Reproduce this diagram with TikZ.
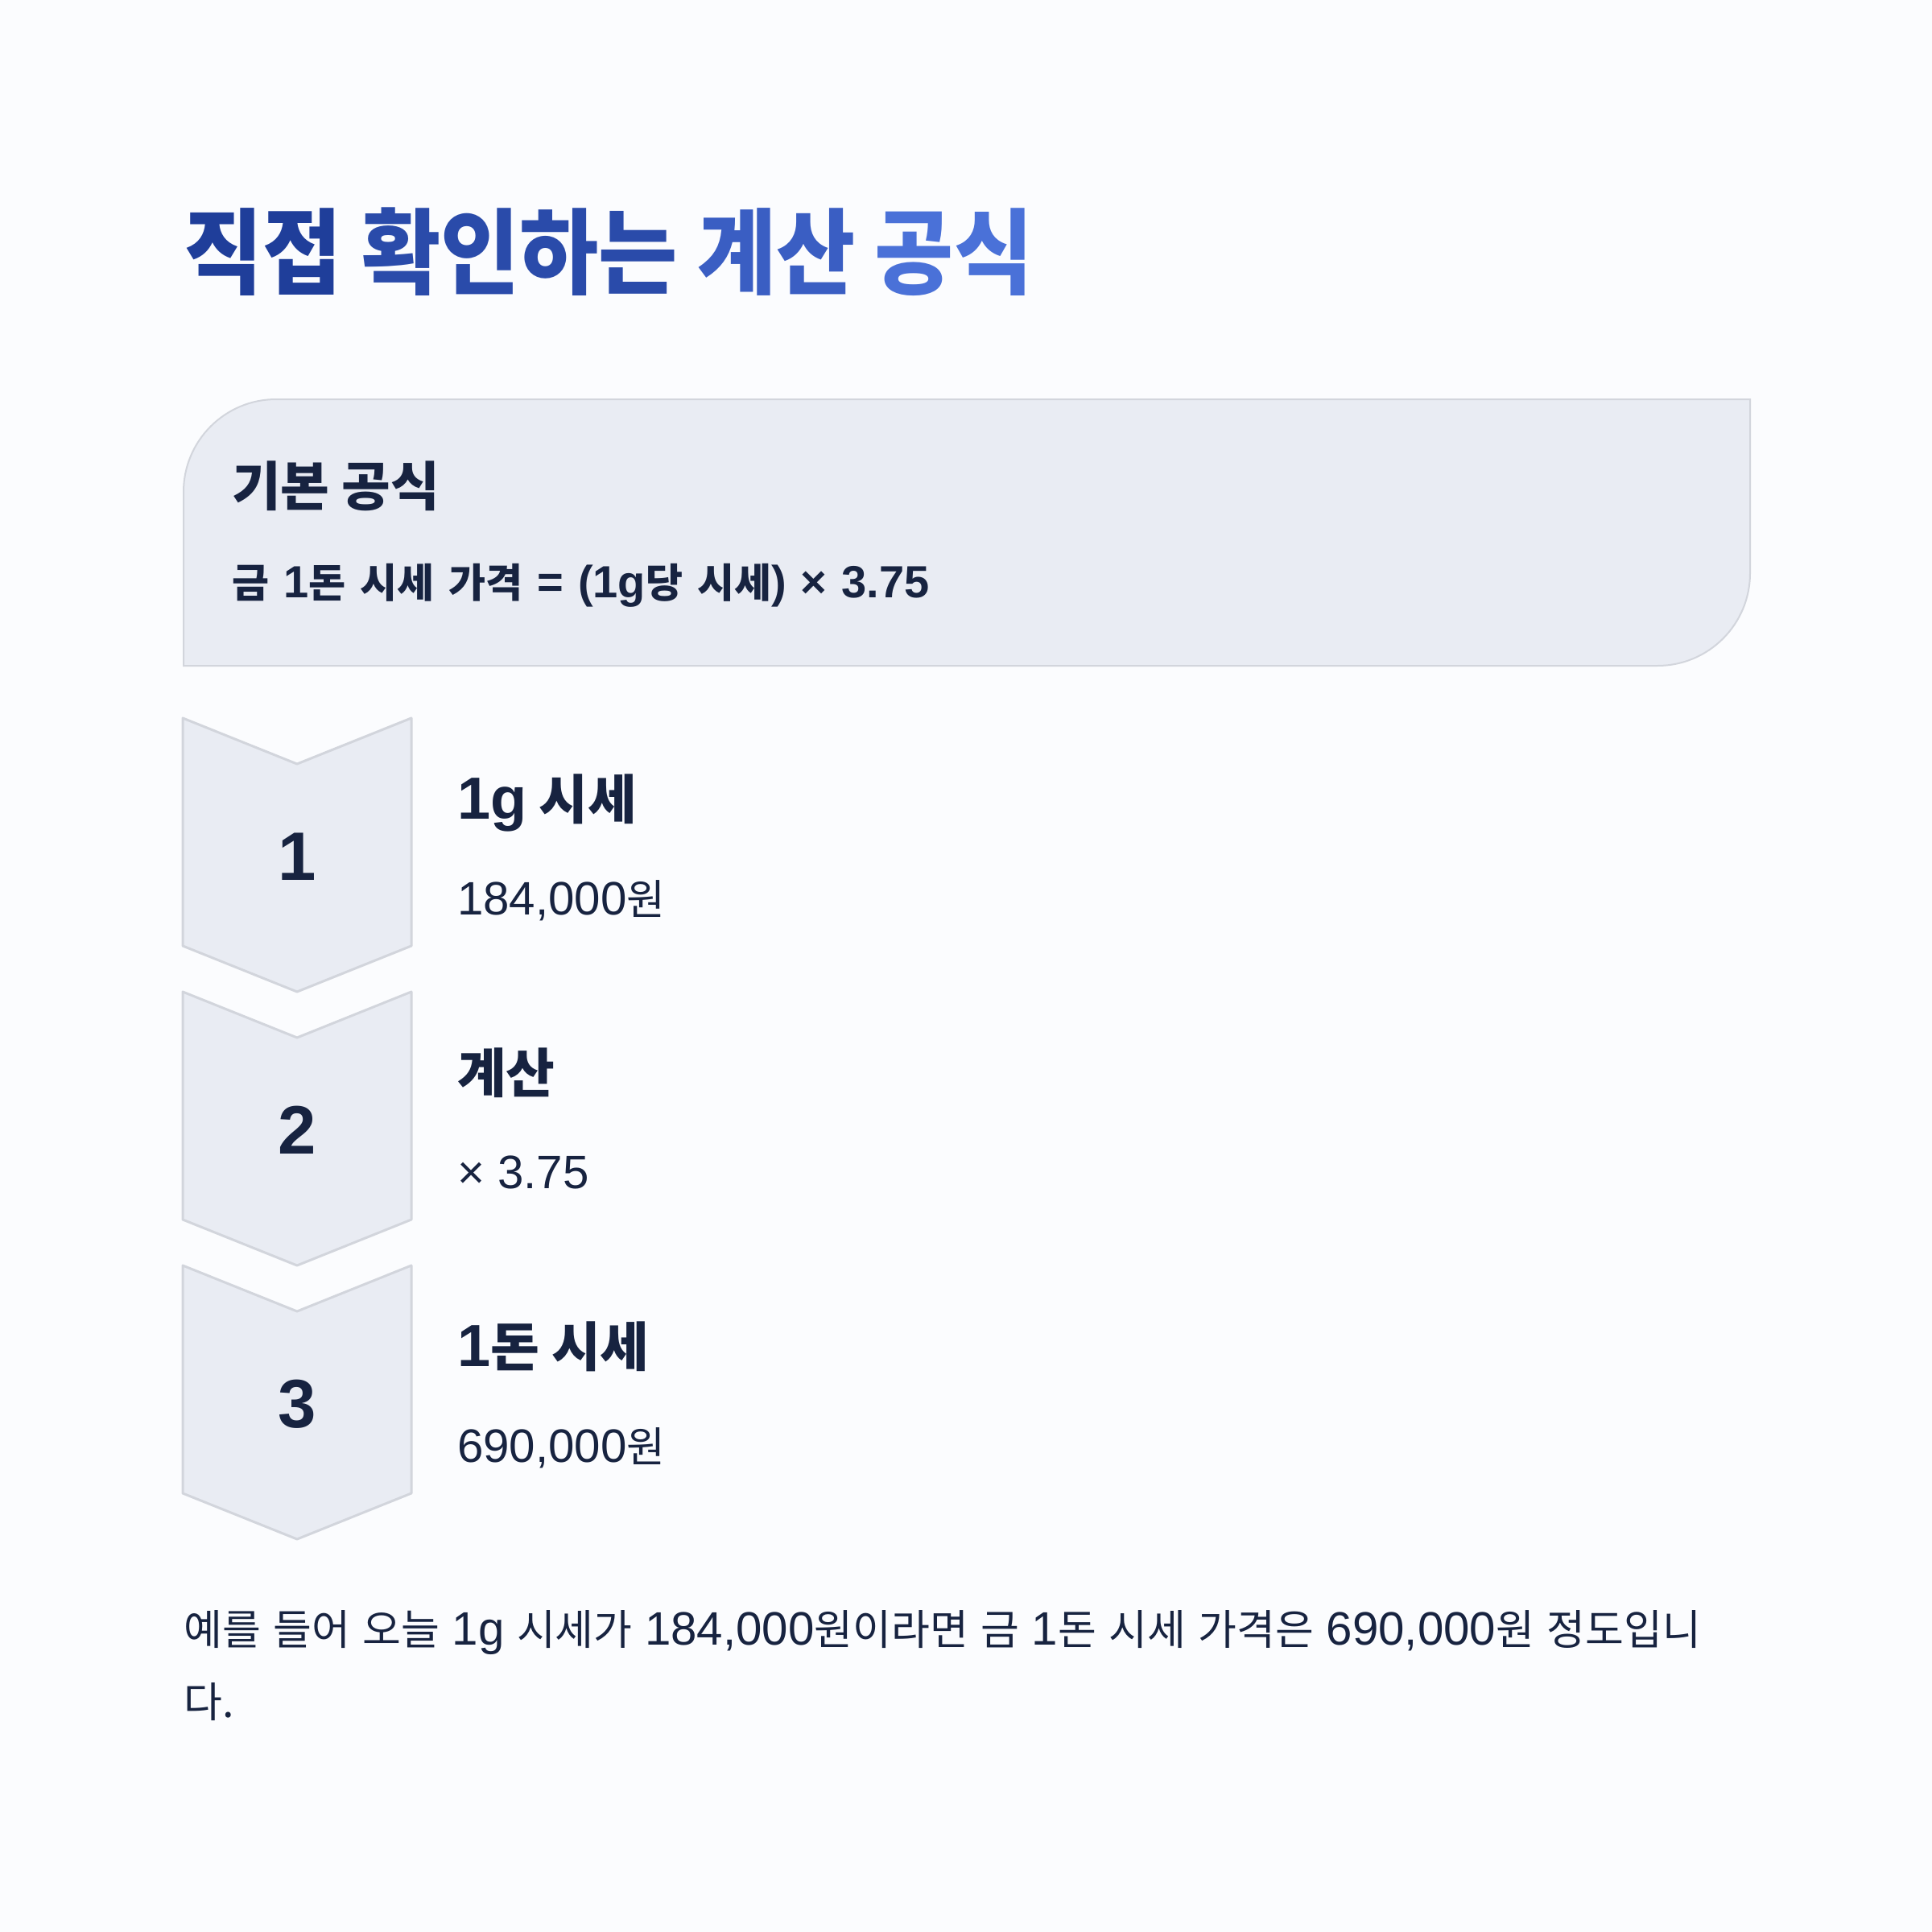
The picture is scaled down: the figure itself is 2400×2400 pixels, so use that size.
\documentclass[tikz,border=0pt]{standalone}
\usepackage{fontspec}
\setmainfont{Noto Sans CJK KR}
\newfontfamily\latn{Liberation Sans}[Scale=1.12]
\usetikzlibrary{positioning}
\definecolor{bgpaper}{HTML}{FBFCFE}
\definecolor{ink}{HTML}{172340}
\definecolor{panel}{HTML}{E9ECF3}
\definecolor{edge}{HTML}{D2D5DC}
\definecolor{titleA}{HTML}{1F3E9A}
\definecolor{titleB}{HTML}{2A4BAA}
\definecolor{titleC}{HTML}{3A5EC3}
\definecolor{titleD}{HTML}{4A71D8}
\newcommand{\sizepx}[1]{\fontsize{#1}{#1}\selectfont}

\begin{document}
\begin{tikzpicture}[x=1pt,y=-1pt,
      txt/.style={anchor=base west,inner sep=0pt,text=ink},
      head/.style={txt,font=\sizepx{66}\bfseries},
      sub/.style={txt,font=\sizepx{52}},
      num/.style={anchor=base,inner sep=0pt,text=ink,font=\sizepx{76}\latn\bfseries},
      chev/.style={fill=panel,draw=edge,line width=3pt,line join=round}]
      \useasboundingbox[fill=bgpaper] (0,0) rectangle (2400,2400);
      % title
      \node[txt,font=\sizepx{116}\bfseries\addfontfeatures{FakeStretch=0.92}] at (228,356) (title)
        {\textcolor{titleA}{직접} \textcolor{titleB}{확인하는} \textcolor{titleC}{계산} \textcolor{titleD}{공식}};
      % formula panel
      \draw[fill=panel,draw=edge,line width=2pt] (228,827) [rounded corners=115pt] -- (228,496) [sharp corners] -- (2174,496)
        [rounded corners=115pt] -- (2174,827) [sharp corners] -- cycle;
      \node[head] at (288,628) (basic) {기본 공식};
      \node[txt,font={\sizepx{50}\bfseries\spaceskip=18pt}] at (288,742) (formula)
        {금 {\latn 1}돈 시세 가격 {\latn = (1g}당 시세{\latn ) × 3.75}};
      % steps
      \draw[chev] (227,892) -- (369,949) -- (511,892) -- (511,1175) -- (369,1232) -- (227,1175) -- cycle;
      \draw[chev] (227,1232) -- (369,1289) -- (511,1232) -- (511,1515) -- (369,1572) -- (227,1515) -- cycle;
      \draw[chev] (227,1572) -- (369,1629) -- (511,1572) -- (511,1855) -- (369,1912) -- (227,1855) -- cycle;
      \node[num] at (369,1093) (n1) {1};
      \node[num] at (369,1433) (n2) {2};
      \node[num] at (369,1773) (n3) {3};
      \node[head] at (568,1017) (s1) {{\latn 1g} 시세};
      \node[sub]  at (568,1136) (v1) {{\latn 184,000}원};
      \node[head] at (568,1357) (s2) {계산};
      \node[sub]  at (568,1476) (v2) {\latn × 3.75};
      \node[head] at (568,1697) (s3) {{\latn 1}돈 시세};
      \node[sub]  at (568,1816) (v3) {{\latn 690,000}원};
      % note
      \node[sub,font={\sizepx{52}\spaceskip=15.5pt}] at (228,2043) (note1)
        {예를 들어 오늘 {\latn 1g} 시세가 {\latn 184,000}원이라면 금 {\latn 1}돈 시세 가격은 {\latn 690,000}원 정도입니};
      \node[sub] at (228,2133) (note2) {다.};
\end{tikzpicture}
\end{document}
